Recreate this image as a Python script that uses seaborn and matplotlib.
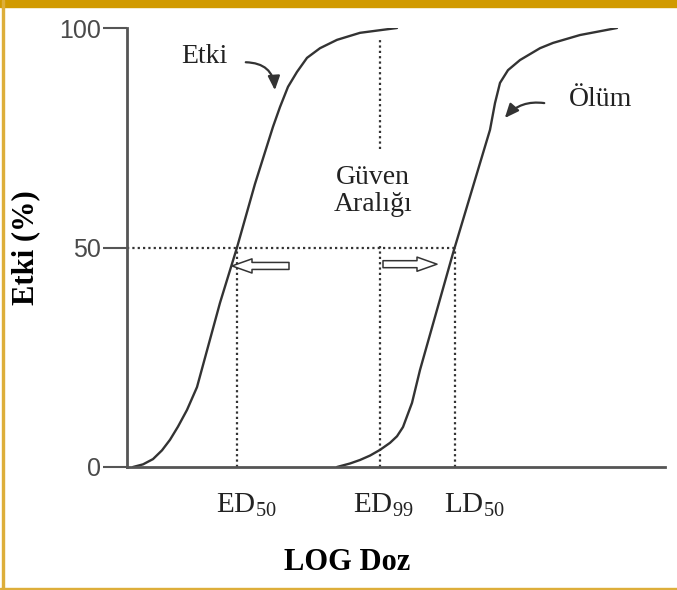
import numpy as np
import pandas as pd
import seaborn as sns
import matplotlib.pyplot as plt
from matplotlib.patches import Rectangle

# egriler (x: log doz, y: etki %)
etki_x = [0.6, 1.6, 2.6, 3.5, 4.3, 5.1, 6.0, 7.0, 9.3, 11.0, 12.8, 14.6, 15.3,
          16.1, 17.0, 18.0, 19.3, 21.0, 23.3, 25.3, 27.0]
etki_y = [0, 0.6, 1.8, 3.8, 6.2, 9.2, 13.0, 18.2, 37.4, 50.0, 64.5, 77.5, 82.0,
          86.6, 90.0, 93.2, 95.4, 97.3, 98.9, 99.5, 100]
olum_x = [21.0, 22.3, 23.3, 24.3, 25.3, 26.3, 27.0, 27.6, 28.5, 29.3, 32.6, 36.3,
          36.8, 37.3, 38.1, 39.3, 41.3, 42.6, 45.3, 49.0]
olum_y = [0, 0.8, 1.6, 2.6, 3.9, 5.5, 7.0, 9.1, 14.6, 22.1, 48.7, 76.8,
          82.9, 87.5, 90.4, 92.7, 95.4, 96.6, 98.4, 100]

y_ticks = [0, 50, 100]
ed50, ed99, ld50 = 11.0, 25.3, 32.8
ed99_top = 98
ref_labels = ["ED$_{50}$", "ED$_{99}$", "LD$_{50}$"]

sns.set_theme(style="white")
plt.rcParams["mathtext.fontset"] = "custom"
plt.rcParams["mathtext.rm"] = "Liberation Serif"
plt.rcParams["mathtext.default"] = "rm"
serif = ["Liberation Serif", "DejaVu Serif"]
sans = ["Liberation Sans", "DejaVu Sans"]
ink = "#333333"

df = pd.concat([
    pd.DataFrame({"doz": etki_x, "etki": etki_y, "egri": "Etki"}),
    pd.DataFrame({"doz": olum_x, "etki": olum_y, "egri": "Ölüm"}),
])

fig = plt.figure(figsize=(6.77, 5.90), dpi=100)
fig.patch.set_facecolor("white")
ax = fig.add_axes([127 / 677, 123 / 590, 538 / 677, 439 / 590])

sns.lineplot(data=df, x="doz", y="etki", hue="egri", palette=[ink, ink],
             legend=False, sort=False, lw=1.7, solid_joinstyle="round", ax=ax)

# noktali kilavuz cizgiler
dot = dict(color="#333333", lw=1.6, ls=(0, (1, 1.4)))
ax.plot([0, ld50], [50, 50], **dot)
ax.plot([ed50, ed50], [0, 50], **dot)
ax.plot([ld50, ld50], [0, 50], **dot)
ax.plot([ed99, ed99], [0, 50.5], **dot)
ax.plot([ed99, ed99], [72.5, ed99_top], **dot)

ax.set_xlim(0, 53.8)
ax.set_ylim(0, 100)
ax.set_xticks([])
ax.set_yticks(y_ticks)
ax.tick_params(axis="y", direction="out", length=17, width=1.5, color="#555555",
               pad=2, labelsize=18, labelcolor="#4a4a4a", left=True)
for t in ax.get_yticklabels():
    t.set_family(sans)
for s in ["top", "right"]:
    ax.spines[s].set_visible(False)
for s in ["left", "bottom"]:
    ax.spines[s].set_color("#555555")
    ax.spines[s].set_linewidth(2)

ax.set_ylabel("Etki (%)", fontsize=22, fontweight="bold", family=serif, color="black")
ax.yaxis.set_label_coords(-0.162, 0.5)
ax.set_xlabel("LOG Doz", fontsize=22, fontweight="bold", family=serif, color="black")
ax.xaxis.set_label_coords(0.409, -0.1845)

# x eksenindeki referans etiketleri
for xpos, lab in zip([11.9, 25.6, 34.7], ref_labels):
    ax.text(xpos, -10.5, lab, ha="center", va="baseline", fontsize=21,
            family=serif, color="#222222", clip_on=False)

ax.text(24.6, 62.9, "Güven\nAralığı", ha="center", va="center", fontsize=20,
        family=serif, color="#222222", linespacing=1.1)
ax.text(7.7, 93.4, "Etki", ha="center", va="center", fontsize=20,
        family=serif, color="#222222")
ax.text(47.4, 83.8, "Ölüm", ha="center", va="center", fontsize=20,
        family=serif, color="#222222")

# egri oklari
ax.annotate("", xy=(14.8, 85.2), xytext=(11.6, 92.2),
            arrowprops=dict(arrowstyle="-|>,head_length=0.7,head_width=0.3",
                            connectionstyle="arc3,rad=-0.5", color=ink, lw=1.6))
ax.annotate("", xy=(37.6, 79.0), xytext=(42.0, 82.8),
            arrowprops=dict(arrowstyle="-|>,head_length=0.7,head_width=0.3",
                            connectionstyle="arc3,rad=0.3", color=ink, lw=1.6))

# bos blok oklar
block = dict(arrowstyle="simple,head_length=1.2,head_width=0.85,tail_width=0.42",
             fc="white", ec=ink, lw=1.1, mutation_scale=12, shrinkA=0, shrinkB=0)
ax.annotate("", xy=(10.5, 45.8), xytext=(16.2, 45.8), arrowprops=block)
ax.annotate("", xy=(31.0, 46.2), xytext=(25.6, 46.2), arrowprops=block)

# cerceve
fig.add_artist(Rectangle((0, 1 - 7 / 590), 1, 7 / 590, transform=fig.transFigure,
                         color="#D19A00", zorder=0))
fig.add_artist(Rectangle((2 / 677, 0), 2 / 677, 1, transform=fig.transFigure,
                         color="#DDAE3A", zorder=0))
fig.add_artist(Rectangle((0, 1 / 590), 1, 1.5 / 590, transform=fig.transFigure,
                         color="#DDAE3A", zorder=0))

fig.savefig("out.png", dpi=100)
plt.close()
